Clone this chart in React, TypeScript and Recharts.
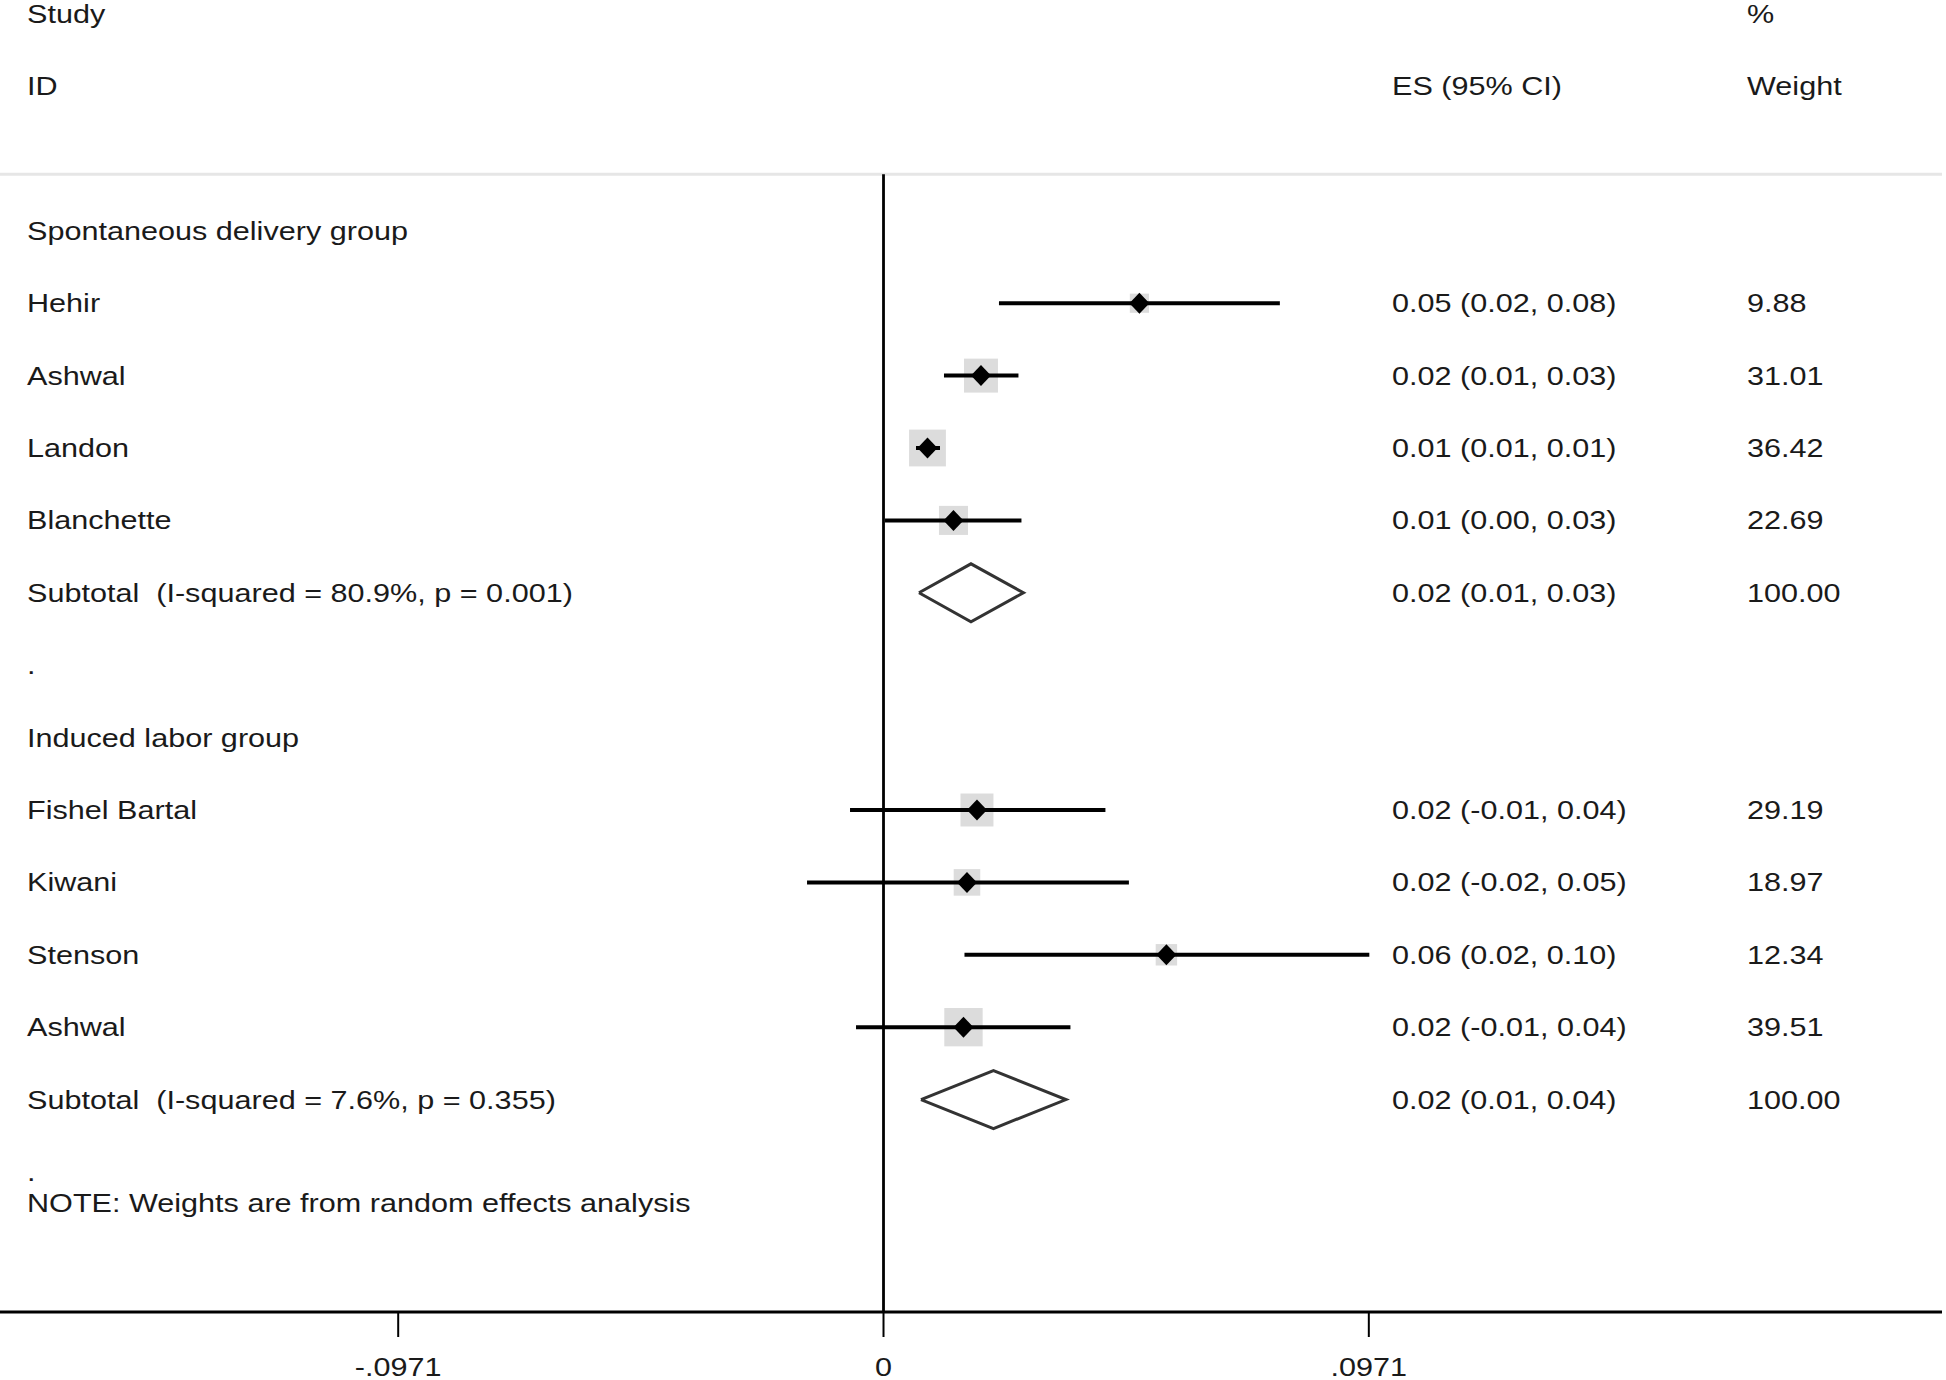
import { ComposedChart, Scatter, XAxis, YAxis, ReferenceLine } from 'recharts';

// study rows (row index counts down from the first group header)
const studyNames = ['Hehir', 'Ashwal', 'Landon', 'Blanchette', 'Fishel Bartal', 'Kiwani', 'Stenson', 'Ashwal'];
const studyRows = [1, 2, 3, 4, 8, 9, 10, 11];
const studyEs = [0.0512, 0.0195, 0.0088, 0.014, 0.0187, 0.0167, 0.0566, 0.016];
const studyLow = [0.0231, 0.0121, 0.0065, 0.0003, -0.0067, -0.0153, 0.0162, -0.0055];
const studyHigh = [0.0793, 0.027, 0.0113, 0.0276, 0.0444, 0.0491, 0.0972, 0.0374];
const studyEsText = [
  '0.05 (0.02, 0.08)', '0.02 (0.01, 0.03)', '0.01 (0.01, 0.01)', '0.01 (0.00, 0.03)',
  '0.02 (-0.01, 0.04)', '0.02 (-0.02, 0.05)', '0.06 (0.02, 0.10)', '0.02 (-0.01, 0.04)',
];
const studyWeights = [9.88, 31.01, 36.42, 22.69, 29.19, 18.97, 12.34, 39.51];

const subtotalLabels = ['Subtotal  (I-squared = 80.9%, p = 0.001)', 'Subtotal  (I-squared = 7.6%, p = 0.355)'];
const subtotalRows = [5, 12];
const subtotalEs = [0.0175, 0.022];
const subtotalLow = [0.0071, 0.0075];
const subtotalHigh = [0.028, 0.0365];
const subtotalEsText = ['0.02 (0.01, 0.03)', '0.02 (0.01, 0.04)'];
const subtotalWeight = '100.00';

const groupLabels = ['Spontaneous delivery group', 'Induced labor group'];
const groupRows = [0, 7];
const spacerRows = [6, 13];
const noteRow = 13.43;
const noteText = 'NOTE: Weights are from random effects analysis';

const headerRows = [-3, -2];
const headerStudy = ['Study', 'ID'];
const headerEs = ['', 'ES (95% CI)'];
const headerWeight = ['%', 'Weight'];

const xTicks = [-0.0971, 0, 0.0971];

const FONT = '"Liberation Sans", Arial, sans-serif';
const TEXT = '#1a1a1a';

function Label({ x, y, text, anchor = 'start' }: { x: number; y: number; text: string; anchor?: string }) {
  if (!text) return null;
  return (
    <text
      transform={`translate(${x},${y + 9}) scale(1,0.83)`}
      x={0}
      y={0}
      fontFamily={FONT}
      fontSize={30.6}
      fill={TEXT}
      textAnchor={anchor as any}
      style={{ whiteSpace: 'pre' }}
    >
      {text}
    </text>
  );
}

const textRows = [
  ...headerRows.map((r, i) => ({ x: 0, y: r, label: headerStudy[i], es: headerEs[i], w: headerWeight[i] })),
  ...groupRows.map((r, i) => ({ x: 0, y: r, label: groupLabels[i], es: '', w: '' })),
  ...studyRows.map((r, i) => ({ x: 0, y: r, label: studyNames[i], es: studyEsText[i], w: studyWeights[i].toFixed(2) })),
  ...subtotalRows.map((r, i) => ({ x: 0, y: r, label: subtotalLabels[i], es: subtotalEsText[i], w: subtotalWeight })),
  ...spacerRows.map((r) => ({ x: 0, y: r, label: '.', es: '', w: '' })),
  { x: 0, y: noteRow, label: noteText, es: '', w: '' },
];

const points = studyRows.map((r, i) => ({ x: studyEs[i], y: r, weight: studyWeights[i] }));

const noShape = () => <g />;

const TextShape = (props: any) => {
  const { cy, payload } = props;
  return (
    <g>
      <Label x={27} y={cy} text={payload.label} />
      <Label x={1392} y={cy} text={payload.es} />
      <Label x={1747} y={cy} text={payload.w} />
    </g>
  );
};

const BoxShape = (props: any) => {
  const { cx, cy, payload } = props;
  const s = 6.1 * Math.sqrt(payload.weight);
  return <rect x={cx - s / 2} y={cy - s / 2} width={s} height={s} fill="#dcdcdc" />;
};

const MarkerShape = (props: any) => {
  const { cx, cy } = props;
  const w = 10;
  const h = 10.5;
  return <polygon points={`${cx - w},${cy} ${cx},${cy - h} ${cx + w},${cy} ${cx},${cy + h}`} fill="#000" />;
};

const AxisTick = (props: any) => {
  const { x, payload } = props;
  const v = payload.value as number;
  const label = v === 0 ? '0' : String(v).replace('0.', '.');
  return (
    <text
      transform={`translate(${x},1375.5) scale(1,0.83)`}
      x={0}
      y={0}
      fontFamily={FONT}
      fontSize={30.6}
      fill={TEXT}
      textAnchor="middle"
    >
      {label}
    </text>
  );
};

export default function App() {
  return (
    <div style={{ position: 'absolute', left: 0, top: 0, width: 1946, height: 1380, background: '#fff' }}>
      <ComposedChart width={1946} height={1380} margin={{ top: 0, right: 4, left: 0, bottom: 0 }}>
        <XAxis
          type="number"
          dataKey="x"
          domain={[-0.17677, 0.21178]}
          allowDataOverflow
          ticks={xTicks}
          height={68}
          tickSize={25}
          tick={<AxisTick />}
          axisLine={{ stroke: '#000', strokeWidth: 3 }}
          tickLine={{ stroke: '#000', strokeWidth: 2 }}
        />
        <YAxis type="number" dataKey="y" domain={[-3.188, 14.934]} reversed hide allowDataOverflow />

        <ReferenceLine y={-0.78} stroke="#e6e6e6" strokeWidth={3} />
        <ReferenceLine
          segment={[{ x: 0, y: -0.78 }, { x: 0, y: 14.934 }]}
          stroke="#000"
          strokeWidth={2.8}
        />

        <Scatter data={textRows} shape={TextShape} isAnimationActive={false} />
        <Scatter data={points} shape={BoxShape} isAnimationActive={false} />

        {studyRows.map((r, i) => (
          <Scatter
            key={`ci-${i}`}
            data={[{ x: studyLow[i], y: r }, { x: studyHigh[i], y: r }]}
            line={{ stroke: '#000', strokeWidth: 4 }}
            stroke="#000"
            strokeWidth={4}
            shape={noShape}
            isAnimationActive={false}
          />
        ))}

        <Scatter data={points} shape={MarkerShape} isAnimationActive={false} />

        {subtotalRows.map((r, i) => (
          <Scatter
            key={`sub-${i}`}
            data={[
              { x: subtotalLow[i], y: r },
              { x: subtotalEs[i], y: r - 0.4 },
              { x: subtotalHigh[i], y: r },
              { x: subtotalEs[i], y: r + 0.4 },
              { x: subtotalLow[i], y: r },
            ]}
            line={{ stroke: '#333', strokeWidth: 3, fill: 'none', strokeLinejoin: 'miter' }}
            stroke="#333"
            strokeWidth={3}
            shape={noShape}
            isAnimationActive={false}
          />
        ))}
      </ComposedChart>
    </div>
  );
}
